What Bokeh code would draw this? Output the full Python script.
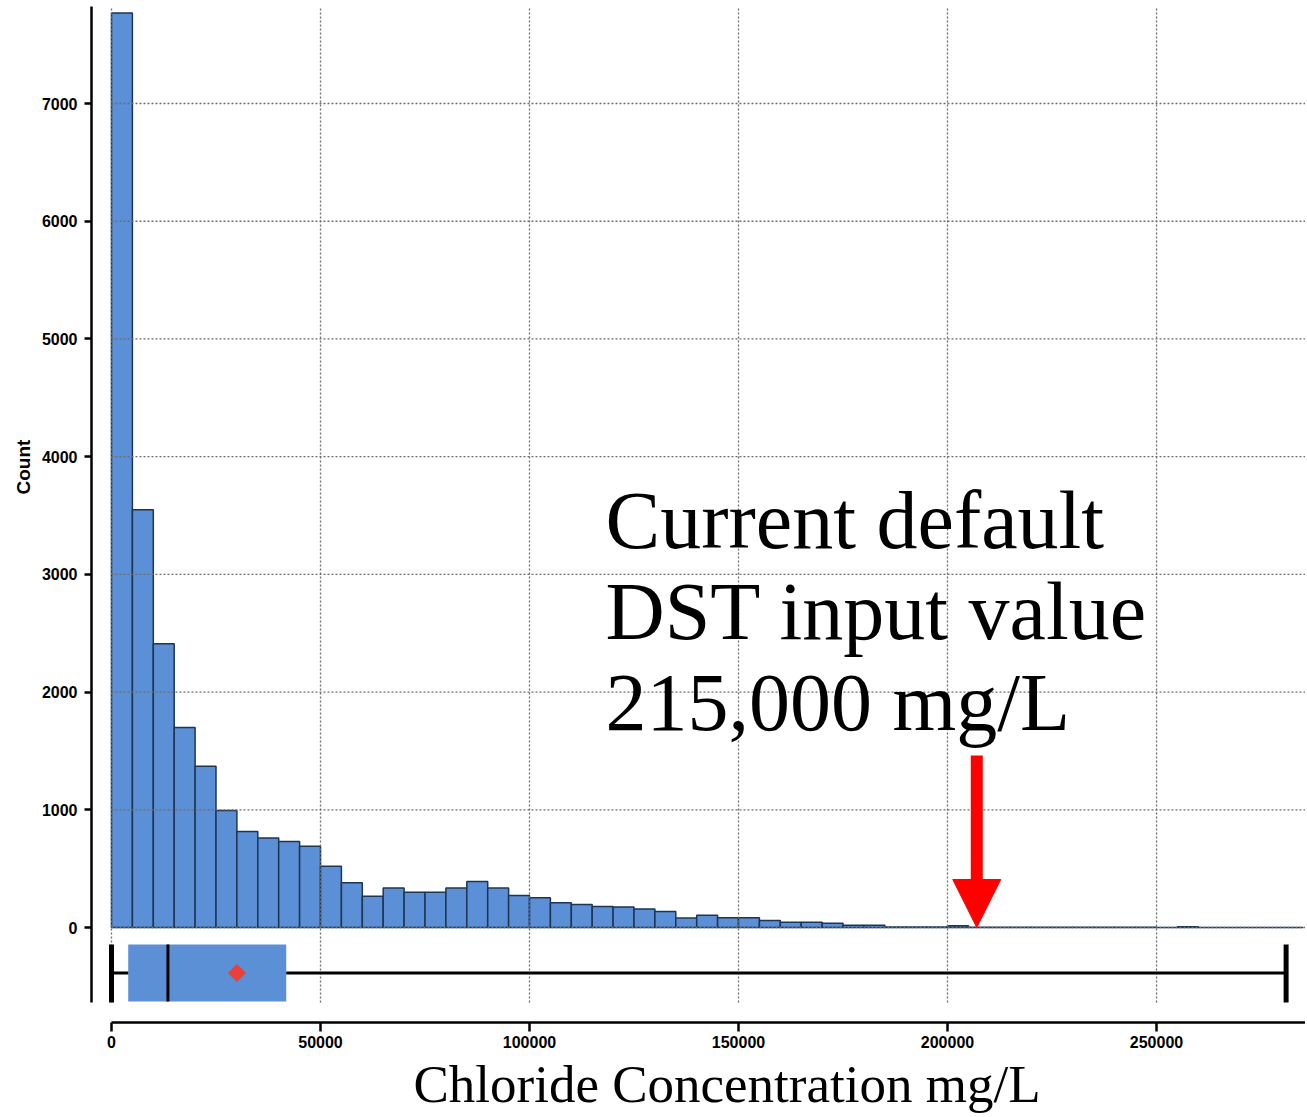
from bokeh.plotting import figure
from bokeh.models import FixedTicker, BasicTickFormatter, Label, Arrow, NormalHead, Range1d, Title
from bokeh.embed import file_html
from bokeh.resources import INLINE
import numpy as np

# ---------------- data ----------------
bin_width = 5000
counts = [7770, 3550, 2410, 1700, 1370, 995, 815, 760, 730, 690,
          520, 380, 265, 335, 300, 300, 335, 390, 335, 272,
          252, 210, 195, 178, 175, 158, 135, 80, 105, 82,
          82, 59, 45, 45, 37, 20, 20, 5, 4, 4,
          15, 3, 3, 3, 3, 3, 3, 2, 2, 2,
          0, 7, 1, 1, 1, 1, 1]

box_min = 0
box_q1 = 4000
box_median = 13500
box_q3 = 41800
box_max = 281000
box_mean = 30000

x_ticks = [0, 50000, 100000, 150000, 200000, 250000]
y_ticks = [0, 1000, 2000, 3000, 4000, 5000, 6000, 7000]

arrow_value = 207000
annotation_lines = ["Current default", "DST input value", "215,000 mg/L"]
x_title = "Chloride Concentration mg/L"
y_title = "Count"

# ---------------- geometry ----------------
PX_X = 239.23   # data units per pixel (x)
PX_Y = 8.4954   # data units per pixel (y)
FRAME_W = 1214
FRAME_H = 1016
X0 = -20 * PX_X
X1 = X0 + FRAME_W * PX_X
Y1 = 921 * PX_Y
Y0 = Y1 - FRAME_H * PX_Y
box_top = -17 * PX_Y
box_bottom = -74 * PX_Y
box_mid = (box_top + box_bottom) / 2
axis_bottom = -75 * PX_Y

BLUE = "#5b8fd6"
EDGE = "#1f3652"
GRID = "#6e6e6e"

p = figure(width=1305, height=1115, x_range=Range1d(X0, X1), y_range=Range1d(Y0, Y1),
           output_backend="svg", toolbar_location=None,
           min_border_left=91, min_border_right=0, min_border_top=6, min_border_bottom=93)
p.outline_line_color = None
p.xgrid.visible = False
p.ygrid.visible = False
p.background_fill_color = "white"
p.border_fill_color = "white"

# histogram bars
edges = np.arange(len(counts) + 1) * bin_width
p.quad(left=edges[:-1], right=edges[1:], bottom=0, top=counts,
       fill_color=BLUE, line_color=EDGE, line_width=1.5)

# grid lines (bounded like the original)
p.segment(x0=[0] * len(y_ticks), y0=y_ticks, x1=[X1] * len(y_ticks), y1=y_ticks,
          line_color=GRID, line_width=1.3, line_dash="2 2")
p.segment(x0=x_ticks, y0=[axis_bottom] * len(x_ticks), x1=x_ticks, y1=[Y1] * len(x_ticks),
          line_color=GRID, line_width=1.3, line_dash="2 2")

# box plot
p.quad(left=[box_q1], right=[box_q3], bottom=[box_bottom], top=[box_top],
       fill_color=BLUE, line_color=None)
p.segment(x0=[box_min, box_q3], y0=[box_mid, box_mid], x1=[box_q1, box_max], y1=[box_mid, box_mid],
          line_color="black", line_width=3)
p.segment(x0=[box_median], y0=[box_bottom], x1=[box_median], y1=[box_top],
          line_color="black", line_width=3)
p.segment(x0=[box_min, box_max], y0=[axis_bottom, axis_bottom], x1=[box_min, box_max], y1=[box_top, box_top],
          line_color="black", line_width=5)
p.scatter(x=[box_mean], y=[box_mid], marker="square", size=12, angle=np.pi / 4,
          fill_color="#e8413c", line_color="#e8413c")

# axes
for ax in (p.xaxis[0], p.yaxis[0]):
    ax.axis_line_width = 2.5
    ax.axis_line_color = "black"
    ax.major_tick_line_width = 2.5
    ax.major_tick_line_color = "black"
    ax.major_tick_in = 0
    ax.minor_tick_line_color = None
    ax.major_label_text_font = "Liberation Sans"
    ax.major_label_text_font_style = "bold"
    ax.major_label_text_font_size = "16px"
    ax.major_label_text_color = "black"

p.xaxis.ticker = FixedTicker(ticks=x_ticks)
p.xaxis.formatter = BasicTickFormatter(use_scientific=False)
p.xaxis.bounds = (0, X1)
p.xaxis.major_tick_out = 9
p.xaxis.major_label_standoff = 4

p.yaxis.ticker = FixedTicker(ticks=y_ticks)
p.yaxis.formatter = BasicTickFormatter(use_scientific=False)
p.yaxis.bounds = (axis_bottom, Y1)
p.yaxis.major_tick_out = 7
p.yaxis.major_label_standoff = 7

# axis titles as side titles (so they can be offset like the original)
p.add_layout(Title(text=y_title, align="left", offset=528, standoff=10,
                   text_font="Liberation Sans", text_font_style="bold",
                   text_font_size="19px", text_color="black"), "left")
p.add_layout(Title(text=x_title, align="left", offset=322, standoff=5,
                   text_font="Liberation Serif", text_font_style="normal",
                   text_font_size="53px", text_color="black"), "below")

# annotation text
for i, line in enumerate(annotation_lines):
    p.add_layout(Label(x=494 * PX_X, y=(407 - 91 * i) * PX_Y, text=line,
                       text_align="left", text_baseline="alphabetic",
                       text_font="Liberation Serif", text_font_size="82px", text_color="black"))

# red arrow
p.add_layout(Arrow(end=NormalHead(size=48, fill_color="red", line_color="red", line_width=1),
                   x_start=arrow_value, y_start=172 * PX_Y, x_end=arrow_value, y_end=0,
                   line_color="red", line_width=12))

open("out.html", "w").write(file_html(p, INLINE))
